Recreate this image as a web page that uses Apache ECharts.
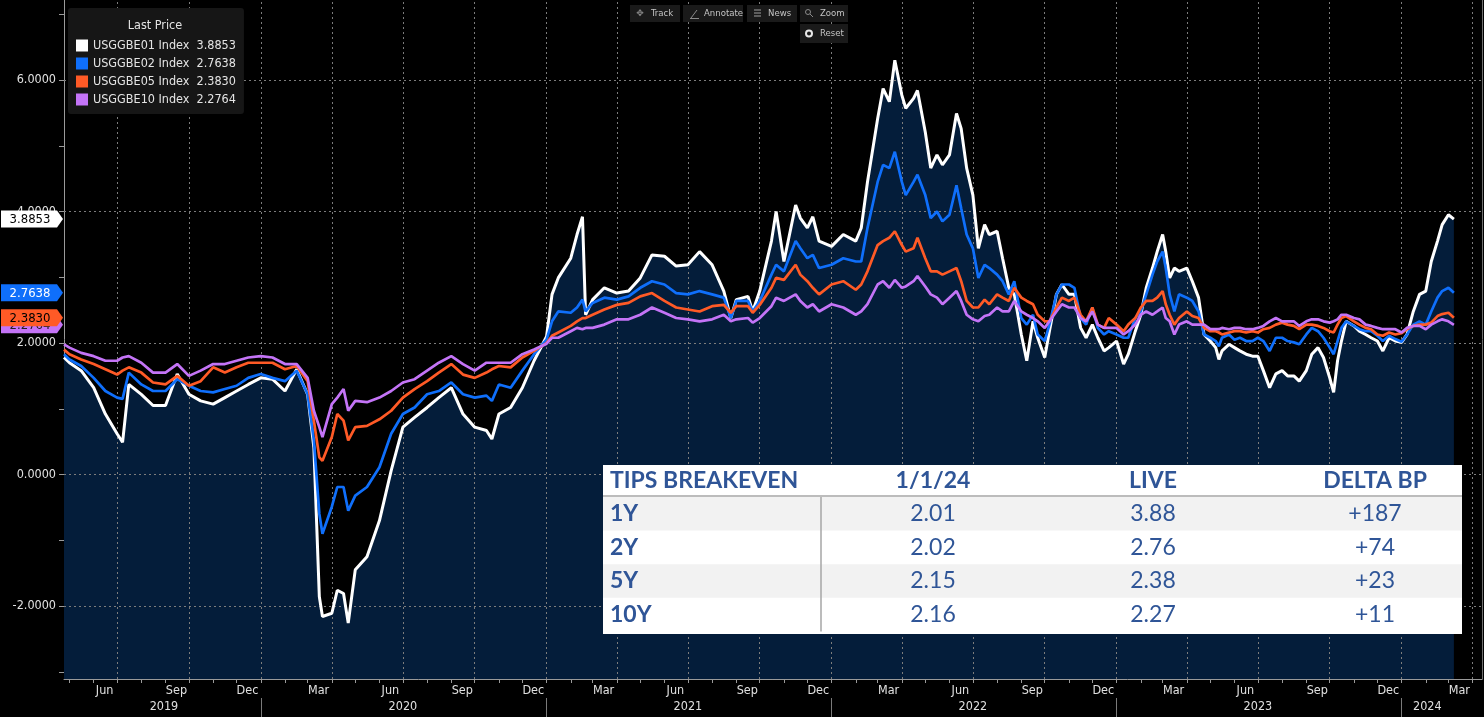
<!DOCTYPE html>
<html>
<head>
<meta charset="utf-8">
<script src="https://cdn.jsdelivr.net/npm/echarts@6/dist/echarts.min.js"></script>
<style>
  html, body { margin: 0; padding: 0; background: #000; }
  #chart { width: 1484px; height: 717px; }
</style>
</head>
<body>
<div id="chart"></div>
<script>
const dates = [
  '2019-04-24','2019-05-01','2019-05-16','2019-06-01','2019-06-16','2019-07-01','2019-07-08','2019-07-16','2019-08-01','2019-08-16',
  '2019-09-01','2019-09-16','2019-10-01','2019-10-16','2019-11-01','2019-11-16','2019-12-01','2019-12-16','2020-01-01','2020-01-16',
  '2020-02-01','2020-02-16','2020-03-01','2020-03-09','2020-03-16','2020-03-20','2020-04-01','2020-04-08','2020-04-16','2020-04-22',
  '2020-05-01','2020-05-16','2020-06-01','2020-06-16','2020-07-01','2020-07-16','2020-08-01','2020-08-16','2020-09-01','2020-09-16',
  '2020-10-01','2020-10-16','2020-10-23','2020-11-01','2020-11-16','2020-12-01','2020-12-16','2021-01-01','2021-01-08','2021-01-16',
  '2021-02-01','2021-02-09','2021-02-16','2021-02-20','2021-03-01','2021-03-16','2021-04-01','2021-04-16','2021-05-01','2021-05-16',
  '2021-06-01','2021-06-16','2021-07-01','2021-07-16','2021-08-01','2021-08-16','2021-08-25','2021-09-01','2021-09-16','2021-09-22',
  '2021-10-01','2021-10-16','2021-10-22','2021-11-01','2021-11-16','2021-11-22','2021-12-01','2021-12-08','2021-12-16','2022-01-01',
  '2022-01-16','2022-02-01','2022-02-08','2022-02-16','2022-03-01','2022-03-08','2022-03-16','2022-03-23','2022-04-01','2022-04-06',
  '2022-04-16','2022-04-21','2022-05-01','2022-05-08','2022-05-16','2022-05-23','2022-06-01','2022-06-10','2022-06-16','2022-06-23',
  '2022-07-01','2022-07-08','2022-07-16','2022-07-22','2022-08-01','2022-08-08','2022-08-16','2022-08-23','2022-09-01','2022-09-08',
  '2022-09-16','2022-09-22','2022-10-01','2022-10-07','2022-10-16','2022-10-23','2022-11-01','2022-11-08','2022-11-16','2022-11-23',
  '2022-12-01','2022-12-08','2022-12-16','2022-12-22','2023-01-01','2023-01-10','2023-01-16','2023-01-25','2023-02-01','2023-02-08',
  '2023-02-16','2023-02-22','2023-03-01','2023-03-05','2023-03-10','2023-03-16','2023-03-22','2023-04-01','2023-04-08','2023-04-16',
  '2023-04-23','2023-05-01','2023-05-08','2023-05-12','2023-05-16','2023-05-25','2023-06-01','2023-06-08','2023-06-16','2023-06-24',
  '2023-07-01','2023-07-08','2023-07-16','2023-07-24','2023-08-01','2023-08-08','2023-08-16','2023-08-23','2023-09-01','2023-09-08',
  '2023-09-16','2023-09-23','2023-10-01','2023-10-06','2023-10-11','2023-10-16','2023-10-22','2023-11-01','2023-11-08','2023-11-16',
  '2023-11-23','2023-12-01','2023-12-08','2023-12-16','2023-12-24','2024-01-01','2024-01-08','2024-01-16','2024-01-24','2024-02-01',
  '2024-02-08','2024-02-16','2024-02-22','2024-03-01','2024-03-08'
];

// USGGBE01 (1Y breakeven)
const be1y = [
  1.78,1.70,1.58,1.32,0.92,0.62,0.49,1.37,1.22,1.05,
  1.05,1.53,1.22,1.12,1.07,1.17,1.27,1.37,1.47,1.45,
  1.27,1.60,1.22,0.41,-1.86,-2.16,-2.11,-1.76,-1.81,-2.26,
  -1.45,-1.25,-0.70,0.06,0.72,0.87,1.02,1.17,1.32,0.92,
  0.72,0.67,0.54,0.92,1.02,1.32,1.73,2.10,2.74,2.99,
  3.29,3.65,3.92,2.43,2.66,2.84,2.76,2.79,2.99,3.34,
  3.32,3.17,3.19,3.39,3.19,2.79,2.38,2.66,2.71,2.48,
  2.79,3.55,4.00,3.24,4.10,3.90,3.75,3.92,3.55,3.47,
  3.65,3.55,3.75,4.45,5.41,5.87,5.67,6.30,5.77,5.57,
  5.72,5.84,5.21,4.66,4.86,4.71,4.86,5.49,5.26,4.66,
  4.25,3.44,3.80,3.65,3.70,3.29,2.84,2.74,2.13,1.73,
  2.33,2.08,1.78,2.18,2.74,2.89,2.74,2.74,2.23,2.08,
  2.28,2.08,1.88,1.93,2.03,1.68,1.83,2.18,2.43,2.84,
  3.14,3.39,3.65,3.39,2.99,3.14,3.09,3.14,2.94,2.69,
  2.13,2.03,1.93,1.75,1.88,1.98,1.93,1.88,1.83,1.80,
  1.80,1.58,1.32,1.53,1.58,1.50,1.50,1.42,1.58,1.83,
  1.93,1.78,1.47,1.25,1.73,2.03,2.33,2.26,2.18,2.13,
  2.08,2.03,1.88,2.08,2.03,2.01,2.13,2.48,2.74,2.79,
  3.24,3.55,3.80,3.95,3.8853
];

// USGGBE02 (2Y breakeven)
const be2y = [
  1.83,1.75,1.65,1.47,1.27,1.17,1.15,1.55,1.37,1.27,
  1.27,1.45,1.35,1.27,1.25,1.30,1.35,1.47,1.53,1.47,
  1.42,1.58,1.22,0.52,-0.60,-0.90,-0.49,-0.19,-0.19,-0.55,
  -0.32,-0.19,0.11,0.62,0.92,1.02,1.22,1.27,1.40,1.22,
  1.17,1.20,1.12,1.37,1.32,1.58,1.83,2.05,2.33,2.48,
  2.46,2.54,2.66,2.48,2.61,2.69,2.66,2.71,2.84,2.94,
  2.89,2.76,2.74,2.79,2.74,2.69,2.38,2.64,2.64,2.48,
  2.64,3.04,3.19,3.09,3.55,3.44,3.29,3.34,3.14,3.19,
  3.29,3.24,3.24,3.75,4.45,4.71,4.66,4.91,4.45,4.25,
  4.45,4.56,4.25,3.90,4.00,3.85,3.95,4.40,4.05,3.65,
  3.44,2.99,3.19,3.14,3.04,2.94,2.74,2.94,2.38,2.28,
  2.43,2.13,2.03,2.28,2.74,2.89,2.89,2.84,2.38,2.28,
  2.54,2.23,2.13,2.18,2.13,2.08,2.08,2.38,2.48,2.74,
  3.04,3.24,3.39,3.14,2.74,2.48,2.74,2.69,2.64,2.48,
  2.13,2.08,2.03,1.95,2.08,2.13,2.05,2.08,2.03,2.03,
  2.08,2.03,1.88,2.08,2.08,2.03,2.01,1.98,2.13,2.23,
  2.18,2.08,1.93,1.83,2.03,2.23,2.33,2.26,2.21,2.18,
  2.18,2.11,2.03,2.11,2.06,2.02,2.13,2.28,2.33,2.28,
  2.48,2.69,2.79,2.84,2.7638
];

// USGGBE05 (5Y breakeven)
const be5y = [
  1.90,1.83,1.75,1.68,1.60,1.52,1.58,1.63,1.55,1.40,
  1.37,1.50,1.35,1.42,1.63,1.55,1.63,1.70,1.70,1.70,
  1.60,1.65,1.42,0.82,0.26,0.21,0.57,0.92,0.82,0.52,
  0.72,0.74,0.84,0.97,1.17,1.30,1.42,1.55,1.68,1.52,
  1.47,1.55,1.60,1.65,1.63,1.78,1.88,2.00,2.11,2.16,
  2.26,2.33,2.38,2.38,2.43,2.51,2.58,2.61,2.71,2.76,
  2.64,2.54,2.51,2.48,2.56,2.58,2.46,2.56,2.56,2.46,
  2.58,2.84,2.99,2.96,3.19,3.04,2.94,2.84,2.74,2.89,
  2.94,2.81,2.89,3.09,3.49,3.55,3.60,3.70,3.49,3.39,
  3.44,3.60,3.29,3.09,3.09,3.04,3.09,3.14,2.94,2.64,
  2.54,2.54,2.66,2.59,2.74,2.69,2.64,2.84,2.69,2.64,
  2.59,2.43,2.33,2.33,2.54,2.69,2.64,2.69,2.43,2.33,
  2.54,2.28,2.23,2.38,2.28,2.18,2.28,2.38,2.54,2.64,
  2.64,2.69,2.79,2.59,2.43,2.28,2.38,2.48,2.41,2.38,
  2.23,2.18,2.18,2.16,2.13,2.16,2.18,2.18,2.16,2.18,
  2.16,2.21,2.23,2.28,2.31,2.28,2.26,2.21,2.28,2.28,
  2.26,2.23,2.18,2.16,2.28,2.38,2.41,2.33,2.28,2.23,
  2.21,2.13,2.11,2.16,2.13,2.15,2.21,2.26,2.28,2.28,
  2.31,2.41,2.44,2.46,2.3830
];

// USGGBE10 (10Y breakeven)
const be10y = [
  1.98,1.93,1.85,1.80,1.73,1.73,1.78,1.80,1.70,1.55,
  1.55,1.68,1.50,1.58,1.68,1.68,1.73,1.78,1.80,1.78,
  1.68,1.68,1.47,0.97,0.72,0.57,1.07,1.17,1.30,0.97,
  1.12,1.10,1.17,1.27,1.40,1.45,1.58,1.70,1.80,1.68,
  1.58,1.70,1.70,1.70,1.70,1.83,1.90,1.99,2.08,2.08,
  2.18,2.23,2.21,2.23,2.23,2.28,2.36,2.36,2.43,2.54,
  2.46,2.38,2.36,2.33,2.36,2.43,2.33,2.36,2.38,2.31,
  2.38,2.56,2.69,2.64,2.74,2.64,2.54,2.59,2.48,2.59,
  2.54,2.43,2.48,2.59,2.89,2.94,2.84,2.96,2.84,2.86,
  2.94,3.02,2.86,2.74,2.69,2.59,2.69,2.79,2.64,2.43,
  2.36,2.33,2.41,2.43,2.54,2.48,2.48,2.64,2.48,2.43,
  2.38,2.33,2.23,2.33,2.48,2.59,2.54,2.54,2.38,2.33,
  2.48,2.28,2.23,2.23,2.23,2.13,2.18,2.28,2.43,2.48,
  2.43,2.48,2.54,2.38,2.33,2.13,2.28,2.33,2.28,2.28,
  2.28,2.21,2.21,2.21,2.23,2.21,2.23,2.23,2.21,2.21,
  2.23,2.26,2.33,2.38,2.33,2.33,2.33,2.26,2.33,2.36,
  2.36,2.33,2.31,2.33,2.36,2.43,2.43,2.38,2.36,2.28,
  2.26,2.23,2.21,2.21,2.21,2.16,2.23,2.26,2.26,2.21,
  2.28,2.33,2.36,2.33,2.2764
];

const seriesNames = ['USGGBE01 Index', 'USGGBE02 Index', 'USGGBE05 Index', 'USGGBE10 Index'];
const lastPrices = ['3.8853', '2.7638', '2.3830', '2.2764'];
const colors = ['#ffffff', '#0f6ffb', '#ff5a26', '#c474f7'];

// axis ticks / labels
const yLabelValues = [-2, 0, 2, 4, 6];
const yOddTicks = [-3, -1, 1, 3, 5, 7];
const quarterStarts = [
  '2019-07-01','2019-10-01','2020-01-01','2020-04-01','2020-07-01','2020-10-01',
  '2021-01-01','2021-04-01','2021-07-01','2021-10-01','2022-01-01','2022-04-01',
  '2022-07-01','2022-10-01','2023-01-01','2023-04-01','2023-07-01','2023-10-01',
  '2024-01-01','2024-04-01'
];
const monthLabelDates = [
  '2019-06-15','2019-09-15','2019-12-15','2020-03-15','2020-06-15','2020-09-15',
  '2020-12-15','2021-03-15','2021-06-15','2021-09-15','2021-12-15','2022-03-15',
  '2022-06-15','2022-09-15','2022-12-15','2023-03-15','2023-06-15','2023-09-15',
  '2023-12-15','2024-03-15'
];
const yearStarts = ['2020-01-01','2021-01-01','2022-01-01','2023-01-01','2024-01-01'];
const yearLabelDates = ['2019-08-30','2020-07-01','2021-07-01','2022-07-01','2023-07-01','2024-02-03'];

// overlay table
const tableHeader = ['TIPS BREAKEVEN', '1/1/24', 'LIVE', 'DELTA BP'];
const tenors = ['1Y', '2Y', '5Y', '10Y'];
const startLevels = ['2.01', '2.02', '2.15', '2.16'];
const liveLevels = ['3.88', '2.76', '2.38', '2.27'];
const deltaBp = ['+187', '+74', '+23', '+11'];

const MONTHS = ['Jan','Feb','Mar','Apr','May','Jun','Jul','Aug','Sep','Oct','Nov','Dec'];
const ts = s => new Date(s + 'T00:00:00').getTime();
const X_MIN = ts('2019-04-24');
const X_MAX = ts('2024-04-13');
const NARROW = "'Liberation Sans Narrow','DejaVu Sans Condensed',Roboto,sans-serif";
const AXIS_COLOR = '#9a9a9a';
const Y_MIN = -3.11, Y_MAX = 7.217;

// all other month starts get a small tick only
const otherMonthStarts = [];
for (let y = 2019; y <= 2024; y++) {
  for (let m = 0; m < 12; m++) {
    const d = new Date(y, m, 1).getTime();
    if (d > X_MIN && d < X_MAX && m % 3 !== 0) otherMonthStarts.push(d);
  }
}

const chart = echarts.init(document.getElementById('chart'));

const seriesData = [be1y, be2y, be5y, be10y];
const toPairs = arr => dates.map((d, i) => [ts(d), arr[i]]);

// x axes are plain value axes over timestamps so custom tick positions work
const xBase = { type: 'value', min: X_MIN, max: X_MAX, scale: true, position: 'bottom' };
const yBase = { type: 'value', min: Y_MIN, max: Y_MAX };

const lineSeries = seriesNames.map((name, k) => ({
  name,
  type: 'line',
  showSymbol: false,
  symbol: 'none',
  data: toPairs(seriesData[k]),
  itemStyle: { color: colors[k] },
  lineStyle: { color: colors[k], width: k === 0 ? 3 : 2.7 },
  z: 10 + k
}));

// dotted grid, drawn over the navy fill but under the lines
const gridMarks = quarterStarts.map(d => ({ xAxis: ts(d) }))
  .concat(yLabelValues.map(v => ({ yAxis: v })));

const option = {
  backgroundColor: '#000',
  animation: false,
  grid: { left: 64, right: 2, top: 0, bottom: 38, outerBoundsMode: 'none' },
  legend: {
    data: seriesNames,
    orient: 'vertical',
    left: 68,
    top: 8,
    z: 20,
    padding: [31, 8, 8, 8],
    itemGap: 5,
    itemWidth: 12,
    itemHeight: 12,
    icon: 'rect',
    backgroundColor: '#161616',
    borderRadius: 3,
    selectedMode: false,
    formatter: name => name + '  ' + lastPrices[seriesNames.indexOf(name)],
    textStyle: { color: '#e4e4e4', fontSize: 12.5, fontFamily: NARROW }
  },
  xAxis: [
    Object.assign({}, xBase, {
      axisLine: { onZero: false, lineStyle: { color: AXIS_COLOR } },
      axisTick: { customValues: quarterStarts.map(ts), length: 4, lineStyle: { color: AXIS_COLOR } },
      axisLabel: {
        customValues: monthLabelDates.map(ts),
        formatter: v => MONTHS[new Date(v).getMonth()],
        color: '#e0e0e0', fontSize: 12.5, fontFamily: NARROW, margin: 5
      },
      splitLine: { show: false }
    }),
    Object.assign({}, xBase, {
      axisLine: { show: false, onZero: false },
      axisTick: { customValues: otherMonthStarts, length: 4, lineStyle: { color: AXIS_COLOR } },
      axisLabel: { show: false },
      splitLine: { show: false }
    }),
    Object.assign({}, xBase, {
      offset: 19,
      axisLine: { show: false, onZero: false },
      axisTick: { customValues: yearStarts.map(ts), length: 19, lineStyle: { color: '#7a7a7a' } },
      axisLabel: {
        customValues: yearLabelDates.map(ts),
        formatter: v => String(new Date(v).getFullYear()),
        color: '#e0e0e0', fontSize: 12.5, fontFamily: NARROW, margin: 2
      },
      splitLine: { show: false }
    })
  ],
  yAxis: [
    Object.assign({}, yBase, {
      position: 'left',
      axisLine: { show: true, onZero: false, lineStyle: { color: AXIS_COLOR } },
      axisTick: { show: true, customValues: yLabelValues, length: 5, lineStyle: { color: AXIS_COLOR } },
      axisLabel: {
        customValues: yLabelValues,
        formatter: v => v.toFixed(4),
        color: '#e0e0e0', fontSize: 12.5, fontFamily: NARROW, margin: 8
      },
      splitLine: { show: false }
    }),
    Object.assign({}, yBase, {
      position: 'left',
      axisLine: { show: false, onZero: false },
      axisTick: { show: true, customValues: yOddTicks, length: 5, lineStyle: { color: AXIS_COLOR } },
      axisLabel: { show: false },
      splitLine: { show: false }
    }),
    Object.assign({}, yBase, {
      position: 'right',
      axisLine: { show: true, onZero: false, lineStyle: { color: '#6e6e6e' } },
      axisTick: { show: false },
      axisLabel: { show: false },
      splitLine: { show: false }
    })
  ],
  series: [
    // navy fill under the 1Y line
    {
      type: 'line',
      showSymbol: false,
      symbol: 'none',
      silent: true,
      data: toPairs(be1y),
      lineStyle: { width: 0 },
      areaStyle: { color: '#041d3a', opacity: 1, origin: 'start' },
      z: 1
    },
    // holder for the dotted grid so it sits above the fill
    {
      type: 'line',
      silent: true,
      data: [],
      z: 3,
      markLine: {
        silent: true,
        z: 3,
        symbol: ['none', 'none'],
        label: { show: false },
        lineStyle: { type: [2, 3], color: '#7c7c7c', width: 1, opacity: 1 },
        emphasis: { disabled: true },
        data: gridMarks
      }
    }
  ].concat(lineSeries)
};

chart.setOption(option);

function buildGraphics() {
  const els = [];
  const btnFont = '9.5px ' + NARROW;

  // legend title
  els.push({ type: 'text', z: 100, style: { text: 'Last Price', x: 155, y: 26, align: 'center', verticalAlign: 'middle', fill: '#e4e4e4', font: '12.5px ' + NARROW } });

  // toolbar buttons
  const buttons = [
    { x: 630, y: 5, w: 50, h: 17, label: 'Track', tx: 651 },
    { x: 683, y: 5, w: 60, h: 17, label: 'Annotate', tx: 704 },
    { x: 747, y: 5, w: 50, h: 17, label: 'News', tx: 768 },
    { x: 800, y: 5, w: 48, h: 17, label: 'Zoom', tx: 820 },
    { x: 800, y: 24, w: 48, h: 19, label: 'Reset', tx: 820 }
  ];
  buttons.forEach(b => {
    els.push({ type: 'rect', z: 100, shape: { x: b.x, y: b.y, width: b.w, height: b.h }, style: { fill: '#1a1a1a' } });
    els.push({ type: 'text', z: 101, style: { text: b.label, x: b.tx, y: b.y + b.h / 2, verticalAlign: 'middle', fill: '#c4c4c4', font: btnFont } });
  });
  // small button icons
  els.push({ type: 'text', z: 101, style: { text: '\u2725', x: 640, y: 13.5, align: 'center', verticalAlign: 'middle', fill: '#8a8a8a', font: '9px DejaVu Sans' } });
  els.push({ type: 'line', z: 101, shape: { x1: 691, y1: 18, x2: 697, y2: 10 }, style: { stroke: '#8a8a8a', lineWidth: 1 } });
  els.push({ type: 'line', z: 101, shape: { x1: 690, y1: 18.5, x2: 699, y2: 18.5 }, style: { stroke: '#8a8a8a', lineWidth: 1 } });
  [10, 13, 16].forEach(yy => els.push({ type: 'line', z: 101, shape: { x1: 754, y1: yy, x2: 761, y2: yy }, style: { stroke: '#8a8a8a', lineWidth: 1.2 } }));
  els.push({ type: 'circle', z: 101, shape: { cx: 808, cy: 12, r: 2.5 }, style: { fill: 'none', stroke: '#8a8a8a', lineWidth: 1 } });
  els.push({ type: 'line', z: 101, shape: { x1: 810, y1: 14, x2: 813, y2: 17 }, style: { stroke: '#8a8a8a', lineWidth: 1 } });
  els.push({ type: 'circle', z: 101, shape: { cx: 809, cy: 33.5, r: 3 }, style: { fill: 'none', stroke: '#e8e8e8', lineWidth: 2 } });

  // last-price tags on the left axis
  const tagFill = ['#ffffff', '#0f6ffb', '#ff5a26', '#c474f7'];
  const tagText = ['#000000', '#ffffff', '#000000', '#222222'];
  [3, 2, 1, 0].forEach(k => {
    const y = chart.convertToPixel({ yAxisIndex: 0 }, +lastPrices[k]);
    els.push({
      type: 'polygon', z: 110 + 2 * (3 - k),
      shape: { points: [[1, y - 8.5], [57, y - 8.5], [63, y], [57, y + 8.5], [1, y + 8.5]] },
      style: { fill: tagFill[k] }
    });
    els.push({
      type: 'text', z: 111 + 2 * (3 - k),
      style: { text: lastPrices[k], x: 30, y: y + 0.5, align: 'center', verticalAlign: 'middle', fill: tagText[k], font: '13px ' + NARROW }
    });
  });

  // overlay table
  const tx0 = 603, tx1 = 1462, ty0 = 465, headH = 31, rowH = 33.6;
  const blue = '#2f5597';
  const tFont = '23px Lato, "Open Sans", sans-serif';
  const colCenters = [933, 1153, 1375];
  els.push({ type: 'rect', z: 120, shape: { x: tx0, y: ty0, width: tx1 - tx0, height: 169 }, style: { fill: '#ffffff' } });
  tenors.forEach((t, i) => {
    const top = ty0 + headH + 1 + i * rowH;
    if (i % 2 === 0) {
      els.push({ type: 'rect', z: 121, shape: { x: tx0, y: top, width: tx1 - tx0, height: rowH }, style: { fill: '#f2f2f2' } });
    }
    const cy = top + rowH / 2;
    els.push({ type: 'text', z: 123, style: { text: t, x: 610, y: cy, verticalAlign: 'middle', fill: blue, font: 'bold ' + tFont } });
    [startLevels[i], liveLevels[i], deltaBp[i]].forEach((v, c) => {
      els.push({ type: 'text', z: 123, style: { text: v, x: colCenters[c], y: cy, align: 'center', verticalAlign: 'middle', fill: blue, font: tFont } });
    });
  });
  els.push({ type: 'line', z: 122, shape: { x1: tx0, y1: ty0 + headH, x2: tx1, y2: ty0 + headH }, style: { stroke: '#a6a6a6', lineWidth: 1.5 } });
  els.push({ type: 'line', z: 122, shape: { x1: 821, y1: ty0 + headH + 1, x2: 821, y2: ty0 + headH + 1 + 4 * rowH }, style: { stroke: '#a6a6a6', lineWidth: 1.5 } });
  els.push({ type: 'text', z: 123, style: { text: tableHeader[0], x: 610, y: ty0 + 15.5, verticalAlign: 'middle', fill: blue, font: 'bold ' + tFont } });
  tableHeader.slice(1).forEach((h, c) => {
    els.push({ type: 'text', z: 123, style: { text: h, x: colCenters[c], y: ty0 + 15.5, align: 'center', verticalAlign: 'middle', fill: blue, font: 'bold ' + tFont } });
  });

  return els;
}

chart.setOption({ graphic: { elements: buildGraphics() } });
</script>
</body>
</html>
